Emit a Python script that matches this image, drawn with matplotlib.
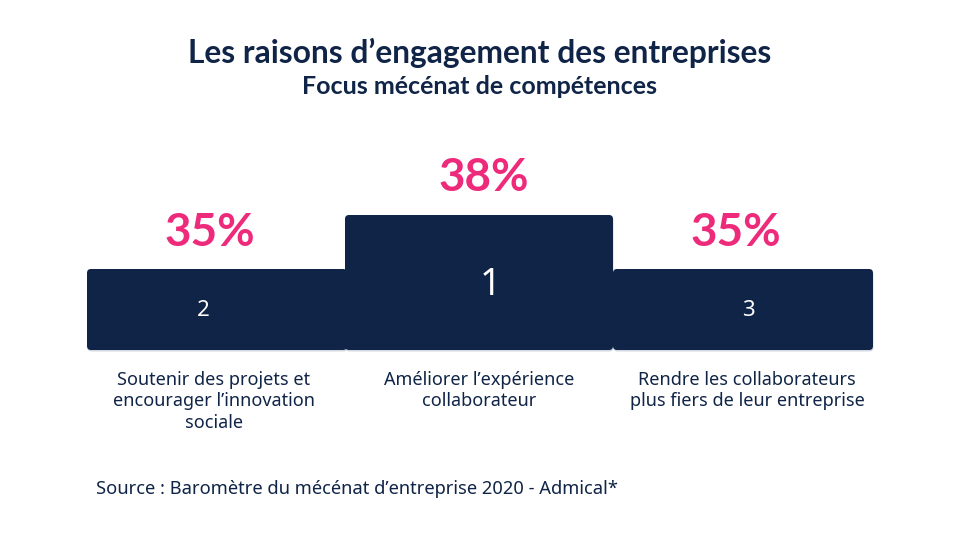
import matplotlib
matplotlib.use('Agg')
import matplotlib.pyplot as plt
from matplotlib.patches import FancyBboxPatch

# Données
raisons = [
    "Soutenir des projets et\nencourager l\u2019innovation\nsociale",
    "Am\u00e9liorer l\u2019exp\u00e9rience\ncollaborateur",
    "Rendre les collaborateurs\nplus fiers de leur entreprise",
]
pourcentages = [35, 38, 35]
rangs = [2, 1, 3]
hauteur_podium = {1: 135, 2: 81, 3: 81}

NAVY = '#0F2447'
PINK = '#EE2A7B'

plt.rcParams['font.family'] = ['Noto Sans', 'DejaVu Sans']
GRAS = ['Lato', 'DejaVu Sans']

fig = plt.figure(figsize=(9.6, 5.4), dpi=100)
ax = fig.add_axes([0, 0, 1, 1])
ax.set_xlim(0, 960)
ax.set_ylim(0, 540)
ax.axis('off')

base = 190
x_gauche = [87, 345, 613]
largeurs = [260, 268, 260]

# ordre de dessin: les côtés d'abord, la première place au-dessus
ordre = sorted(range(len(rangs)), key=lambda i: -rangs[i])
for i in ordre:
    h = hauteur_podium[rangs[i]]
    x0, w = x_gauche[i], largeurs[i]
    ombre = FancyBboxPatch((x0 + 0.5, base - 1.5), w, h,
                           boxstyle="round,pad=0,rounding_size=4",
                           fc='#b8bfcc', ec='none', alpha=0.6, zorder=2)
    ax.add_patch(ombre)
    p = FancyBboxPatch((x0, base), w, h,
                       boxstyle="round,pad=0,rounding_size=4",
                       fc=NAVY, ec='none', zorder=3)
    ax.add_patch(p)
    cx = x0 + w / 2
    # rang
    if rangs[i] == 1:
        ax.text(cx + 11, base + h - 70, str(rangs[i]), color='white', fontsize=27,
                ha='center', va='center', zorder=4)
    else:
        ax.text(cx - 14 if i == 0 else cx + 5, base + h - 41, str(rangs[i]),
                color='white', fontsize=16, ha='center', va='center', zorder=4)
    # pourcentage
    dy = 37 if i == 1 else 36
    ax.text(cx - 7 if i != 1 else cx + 5, base + h + dy, f"{pourcentages[i]}%",
            color=PINK, fontsize=33, fontweight='bold', family=GRAS,
            ha='center', va='center')
    # libellé
    ax.text(cx - 3 if i == 0 else cx + (4 if i == 2 else 0), 540 - 371, raisons[i],
            color=NAVY, fontsize=13, ha='center', va='top', linespacing=1.25)

ax.text(480, 540 - 53, "Les raisons d\u2019engagement des entreprises",
        color=NAVY, fontsize=22.9, fontweight='bold', family=GRAS,
        ha='center', va='center')
ax.text(480, 540 - 86, "Focus m\u00e9c\u00e9nat de comp\u00e9tences",
        color=NAVY, fontsize=18, fontweight='bold', family=GRAS,
        ha='center', va='center')
ax.text(96, 540 - 489, "Source : Barom\u00e8tre du m\u00e9c\u00e9nat d\u2019entreprise 2020 - Admical*",
        color=NAVY, fontsize=13.2, ha='left', va='center')

fig.savefig('out.png', dpi=100, facecolor='white')
